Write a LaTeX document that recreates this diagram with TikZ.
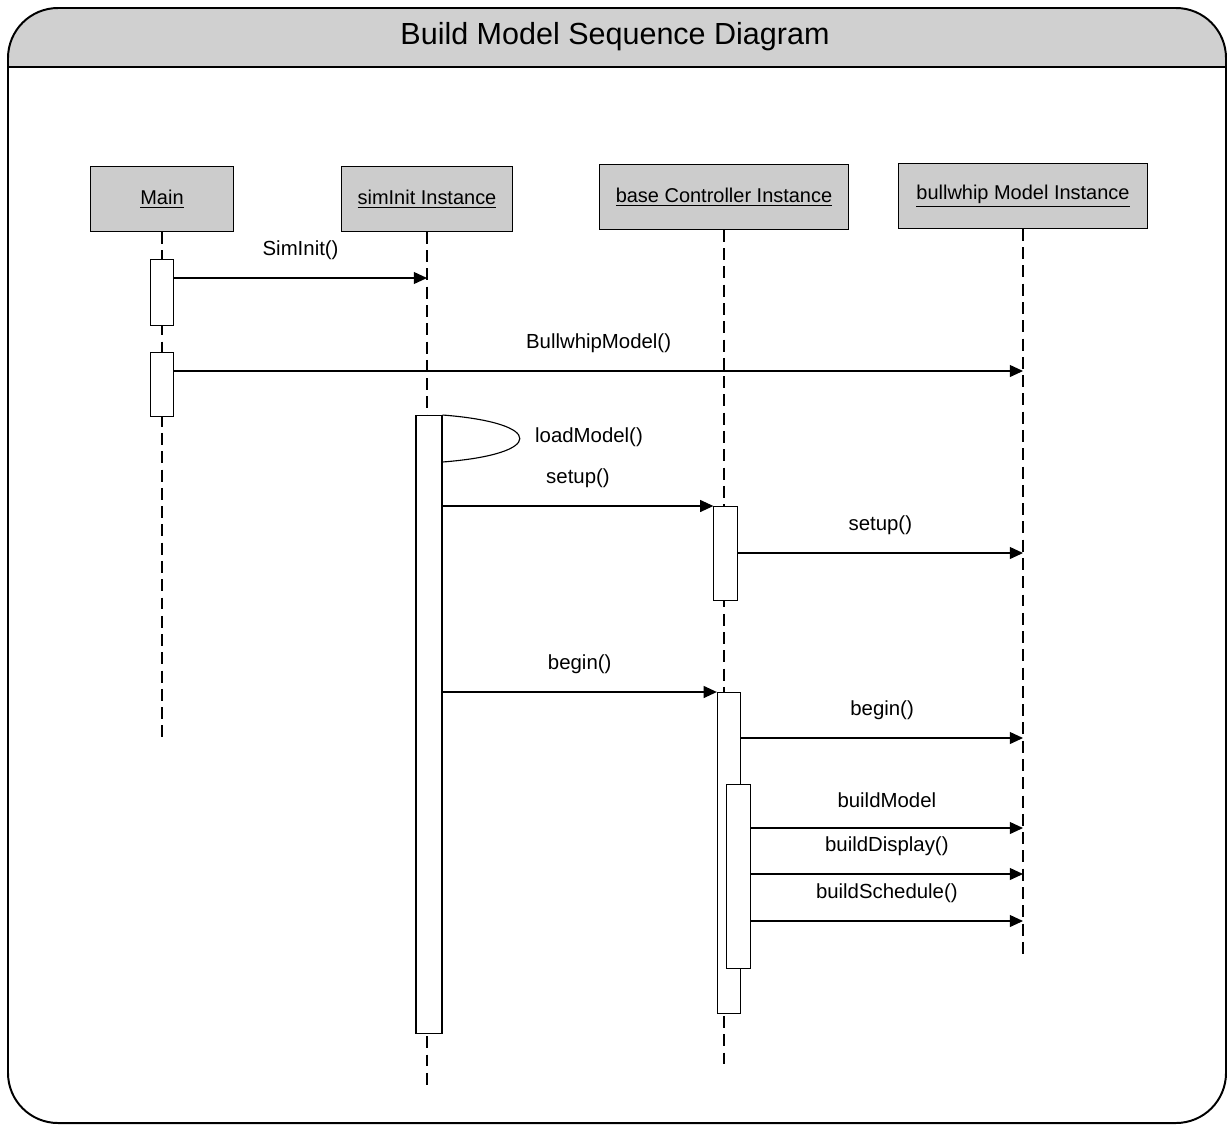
\documentclass[tikz,border=0pt]{standalone}
\usepackage{fontspec}
\setmainfont{Liberation Sans}
\usepackage{xcolor}
\usepackage{tikz}
\usetikzlibrary{arrows.meta, positioning, calc}
\definecolor{hdrgray}{RGB}{204,204,204}
\definecolor{bandgray}{RGB}{208,208,208}

\begin{document}
\begin{tikzpicture}[
    x=0.025cm, y=-0.025cm,
    frame/.style={line width=1.4pt, rounded corners=1.25cm},
    head/.style={rectangle, draw, fill=hdrgray, line width=0.7pt, minimum height=1.62cm, inner sep=2pt, font=\fontsize{14.2}{17}\selectfont},
    act/.style={rectangle, draw, fill=white, line width=0.8pt, minimum width=0.58cm, inner sep=0pt, anchor=north},
    arr/.style={-{Triangle[length=3.3mm, width=3mm]}, line width=0.8pt},
    life/.style={line width=0.8pt, dash pattern=on 8.5pt off 4.5pt},
    lbl/.style={font=\fontsize{14.5}{17}\selectfont},
    msglbl/.style={lbl, midway, yshift=0.7cm},
]
\useasboundingbox (0,0) rectangle (1230,1126);

% frame and title band
\begin{scope}
  \clip[rounded corners=1.25cm] (8,8) rectangle (1226,1123);
  \fill[bandgray] (0,0) rectangle (1230,67);
\end{scope}
\draw[frame] (8,8) rectangle (1226,1123);
\draw[line width=1.4pt] (8,67) -- (1226,67);
\node[font=\fontsize{21.7}{26}\selectfont] (title) at (615,37) {Build Model Sequence Diagram};

% objects
\node[head, minimum width=3.55cm] (main) at (162,199) {\underline{Main}};
\node[head, minimum width=4.25cm] (siminit) at (427,199) {\underline{simInit Instance}};
\node[head, minimum width=6.225cm] (basectrl) at (724,197) {\underline{base Controller Instance}};
\node[head, minimum width=6.225cm] (bullwhip) at (1023,196) {\underline{bullwhip Model Instance}};

% lifelines
\draw[life] (main.south) -- (main |- 0,740);
\draw[life] (siminit.south) -- (siminit |- 0,1090);
\draw[life] (basectrl.south) -- (basectrl |- 0,1070);
\draw[life] (bullwhip.south) -- (bullwhip |- 0,960);

% activations
\node[act, minimum height=1.65cm] (mainA) at (162,259) {};
\node[act, minimum height=1.6cm] (mainB) at (162,352) {};
\node[act, minimum width=0.65cm, minimum height=15.45cm] (sinitAct) at (429,415) {};
\node[act, minimum height=2.35cm] (ctrlA) at (725.5,506) {};
\node[act, minimum height=8.025cm] (ctrlB) at (729,692) {};
\node[act, minimum height=4.6cm] (ctrlC) at (738.5,784) {};

% messages
\draw[arr] (mainA.east |- 0,278) -- (siminit |- 0,278) node[msglbl] {SimInit()};
\draw[arr] (mainB.east |- 0,371) -- (bullwhip |- 0,371) node[msglbl] {BullwhipModel()};
\draw[line width=0.8pt] (sinitAct.north east) .. controls +(103,8) and +(103,-8) .. ($(sinitAct.north east)+(0,47)$);
\node[lbl] (loadlbl) at (589,437) {loadModel()};
\draw[arr] (sinitAct.east |- ctrlA.north west) -- (ctrlA.north west) node[msglbl] {setup()};
\draw[arr] (ctrlA.east |- 0,553) -- (bullwhip |- 0,553) node[msglbl] {setup()};
\draw[arr] (sinitAct.east |- ctrlB.north west) -- (ctrlB.north west) node[msglbl] {begin()};
\draw[arr] (ctrlB.east |- 0,738) -- (bullwhip |- 0,738) node[msglbl] {begin()};
\draw[arr] (ctrlC.east |- 0,828) -- (bullwhip |- 0,828) node[msglbl] {buildModel};
\draw[arr] (ctrlC.east |- 0,874) -- (bullwhip |- 0,874) node[msglbl] {buildDisplay()};
\draw[arr] (ctrlC.east |- 0,921) -- (bullwhip |- 0,921) node[msglbl] {buildSchedule()};
\end{tikzpicture}
\end{document}
